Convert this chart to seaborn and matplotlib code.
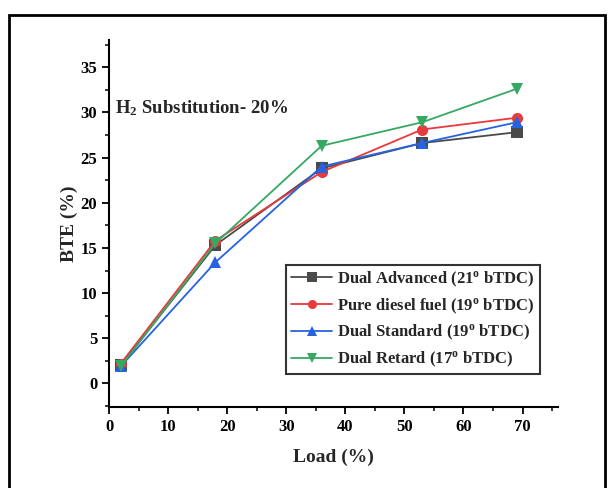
import matplotlib
matplotlib.use("Agg")
import matplotlib.pyplot as plt
import seaborn as sns
import pandas as pd
from matplotlib.patches import Rectangle
from matplotlib.ticker import MultipleLocator

load = [2, 18, 36, 53, 69]
dual_advanced = [2.0, 15.3, 23.8, 26.6, 27.8]
pure_diesel = [2.2, 15.8, 23.4, 28.1, 29.4]
dual_standard = [1.9, 13.4, 24.0, 26.6, 28.9]
dual_retard = [1.9, 15.5, 26.3, 28.9, 32.6]
series_names = ["Dual Advanced (21$^{\\mathregular{o}}$ bTDC)",
                "Pure diesel fuel (19$^{\\mathregular{o}}$ bTDC)",
                "Dual Standard (19$^{\\mathregular{o}}$ bTDC)",
                "Dual Retard (17$^{\\mathregular{o}}$ bTDC)"]

rows = []
for name, vals in zip(series_names, [dual_advanced, pure_diesel, dual_standard, dual_retard]):
    for x, y in zip(load, vals):
        rows.append({"Load": x, "BTE": y, "Series": name})
df = pd.DataFrame(rows)

sns.set_theme(style="ticks")
plt.rcParams["font.family"] = ["Liberation Serif", "DejaVu Serif"]
plt.rcParams["font.weight"] = "bold"
plt.rcParams["mathtext.fontset"] = "custom"
plt.rcParams["mathtext.rm"] = "Liberation Serif:bold"
plt.rcParams["mathtext.it"] = "Liberation Serif:bold"
plt.rcParams["mathtext.bf"] = "Liberation Serif:bold"

fig = plt.figure(figsize=(6.1, 4.88), dpi=100)
ax = fig.add_axes([0.1787, 0.166, 0.736, 0.752])

palette = {series_names[0]: "#4a4a4a", series_names[1]: "#e8393c",
           series_names[2]: "#2563e0", series_names[3]: "#35a862"}
markers = {series_names[0]: "s", series_names[1]: "o",
           series_names[2]: "^", series_names[3]: "v"}

sns.lineplot(data=df, x="Load", y="BTE", hue="Series", style="Series",
             palette=palette, markers=markers, dashes=False, markersize=8,
             markeredgewidth=0, linewidth=1.3, ax=ax)

ax.xaxis.set_major_locator(MultipleLocator(10))
ax.xaxis.set_minor_locator(MultipleLocator(5))
ax.yaxis.set_major_locator(MultipleLocator(5))
ax.yaxis.set_minor_locator(MultipleLocator(2.5))
ax.set_xlim(0, 76)
ax.set_ylim(-2.6, 38)
ax.set_yticks(range(0, 40, 5))
ax.set_ylim(-2.6, 38)
ax.tick_params(axis="both", which="major", direction="out", length=5, width=1.3,
               labelsize=12, color="black", labelcolor="black")
ax.tick_params(axis="both", which="minor", direction="out", length=3, width=1.1, color="black")
for lab in ax.get_xticklabels() + ax.get_yticklabels():
    lab.set_fontweight("bold")
sns.despine(ax=ax)
for s in ["left", "bottom"]:
    ax.spines[s].set_linewidth(1.5)
    ax.spines[s].set_color("black")

ax.set_xlabel("Load (%)", fontsize=14, fontweight="bold", labelpad=10)
ax.set_ylabel("BTE (%)", fontsize=14, fontweight="bold", labelpad=2)

ax.text(0.014, 0.815, "H$_{\\mathregular{2}}$ Substitution- 20%", transform=ax.transAxes,
        fontsize=13.5, fontweight="bold", va="center", ha="left")

leg = ax.legend(loc="lower right", bbox_to_anchor=(0.96, 0.09), frameon=True,
                fancybox=False, edgecolor="black", fontsize=12, handlelength=2.5,
                handletextpad=0.3, borderpad=0.3, labelspacing=0.45, borderaxespad=0)
leg.get_frame().set_linewidth(1.5)
for t in leg.get_texts():
    t.set_fontweight("bold")
for h in leg.legend_handles:
    h.set_markersize(6.5)

fig.patches.append(Rectangle((0.0145, -0.1), 0.977, 1.069, transform=fig.transFigure,
                             fill=False, edgecolor="black", linewidth=2))

fig.savefig("out.png", dpi=100)
